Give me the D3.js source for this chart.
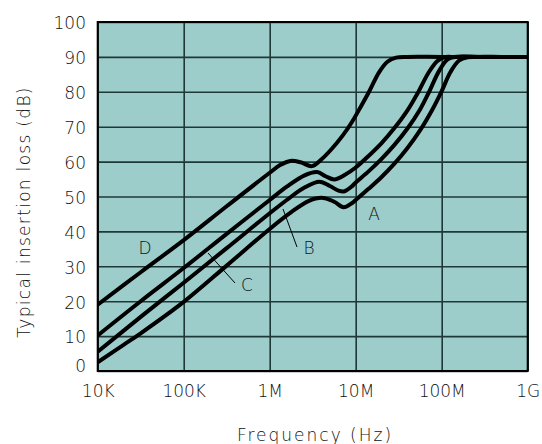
<!DOCTYPE html>
<html>
<head>
<meta charset="utf-8">
<script src="https://cdn.jsdelivr.net/npm/d3@7"></script>
<style>
  body { margin: 0; background: #fff; }
  svg { display: block; }
  text { font-family: "DejaVu Sans", sans-serif; font-weight: 200; fill: #111; }
  .grid line { stroke: #1e3838; stroke-width: 1.6; }
  .grid path { display: none; }
  .axis path, .axis line { display: none; }
  .axis text { font-size: 17px; }
  .curve { fill: none; stroke: #000; stroke-width: 4; stroke-linejoin: round; stroke-linecap: round; }
</style>
</head>
<body>
<script>
var width = 542,
    height = 444,
    plotLeft = 97.7,
    plotRight = 527.7,
    plotTop = 22,
    plotBottom = 371;

// frequency ticks (Hz) and their labels
var xTicks = [1e4, 1e5, 1e6, 1e7, 1e8, 1e9];
var xLabels = ["10K", "100K", "1M", "10M", "100M", "1G"];
var yTicks = [0, 10, 20, 30, 40, 50, 60, 70, 80, 90, 100];

// curve A
var freqA = [10e3, 20e3, 31.6e3, 100e3, 316e3, 1e6, 1.78e6, 2.82e6, 4.17e6, 5.62e6, 7.24e6, 8.91e6, 10e6, 14.1e6, 20e6, 28.2e6, 39.8e6, 56.2e6, 79.4e6, 100e6, 126e6, 158e6, 200e6, 251e6, 500e6, 1e9];
var lossA = [2.5, 7.5, 10.8, 19.8, 30.2, 40.7, 45.5, 48.7, 49.6, 48.5, 46.9, 48, 49, 52.2, 55.6, 59.4, 63.8, 69, 75.3, 80.2, 85.6, 88.9, 89.9, 90, 90, 90];

// curve B
var freqB = [10e3, 31.6e3, 100e3, 316e3, 1e6, 1.58e6, 2.51e6, 3.8e6, 5.01e6, 6.31e6, 7.41e6, 8.91e6, 10e6, 14.1e6, 20e6, 28.2e6, 39.8e6, 56.2e6, 70.8e6, 93.3e6, 117e6, 145e6, 300e6, 1e9];
var lossB = [5.5, 15.5, 25.3, 35.2, 45.2, 49, 52.5, 54.2, 53, 51.7, 51.5, 52.8, 54, 57.2, 60.8, 64.8, 69.4, 75, 79.8, 86, 89.3, 90, 90, 90];

// curve C
var freqC = [10e3, 31.6e3, 100e3, 316e3, 1e6, 1.58e6, 2.51e6, 3.55e6, 4.47e6, 5.62e6, 7.59e6, 10e6, 14.1e6, 20e6, 28.2e6, 39.8e6, 52.5e6, 70.8e6, 89.1e6, 107e6, 132e6, 300e6, 1e9];
var lossC = [10.2, 20, 29.5, 39.3, 49, 52.8, 56, 57, 55.8, 54.9, 56.3, 58.3, 61.6, 65.3, 69.6, 74.6, 79.6, 85.6, 88.8, 89.9, 90, 90, 90];

// curve D
var freqD = [10e3, 31.6e3, 100e3, 316e3, 1e6, 1.32e6, 1.74e6, 2.29e6, 3.09e6, 3.98e6, 5.25e6, 7.08e6, 9.12e6, 11.5e6, 14.5e6, 18.6e6, 23.4e6, 29.5e6, 39.8e6, 100e6, 1e9];
var lossD = [19, 28.3, 37.5, 47.2, 56.8, 59, 60.2, 59.8, 58.7, 60.6, 63.6, 67.5, 71.5, 75.8, 80.3, 85.5, 88.6, 89.8, 90, 90, 90];

var curves = [
  { name: "A", freq: freqA, loss: lossA },
  { name: "B", freq: freqB, loss: lossB },
  { name: "C", freq: freqC, loss: lossC },
  { name: "D", freq: freqD, loss: lossD }
];

var x = d3.scaleLog()
    .domain([1e4, 1e9])
    .range([plotLeft, plotRight]);

var y = d3.scaleLinear()
    .domain([0, 100])
    .range([plotBottom, plotTop]);

var svg = d3.select("body").append("svg")
    .attr("width", width)
    .attr("height", height);

svg.append("rect")
    .attr("x", plotLeft)
    .attr("y", plotTop)
    .attr("width", plotRight - plotLeft)
    .attr("height", plotBottom - plotTop)
    .attr("fill", "#9ccdcb");

// grid
svg.append("g")
    .attr("class", "grid")
    .attr("transform", "translate(0," + plotBottom + ")")
    .call(d3.axisBottom(x).tickValues(xTicks).tickSize(-(plotBottom - plotTop)).tickFormat(""));

svg.append("g")
    .attr("class", "grid")
    .attr("transform", "translate(" + plotLeft + ",0)")
    .call(d3.axisLeft(y).tickValues(yTicks).tickSize(-(plotRight - plotLeft)).tickFormat(""));

svg.append("defs").append("clipPath")
    .attr("id", "plot")
  .append("rect")
    .attr("x", plotLeft)
    .attr("y", plotTop)
    .attr("width", plotRight - plotLeft)
    .attr("height", plotBottom - plotTop);

var line = d3.line()
    .x(function(d) { return x(d[0]); })
    .y(function(d) { return y(d[1]); })
    .curve(d3.curveCatmullRom.alpha(0.5));

svg.append("g")
    .attr("clip-path", "url(#plot)")
  .selectAll(".curve")
    .data(curves)
    .enter().append("path")
    .attr("class", "curve")
    .attr("d", function(c) { return line(d3.zip(c.freq, c.loss)); });

// frame
svg.append("rect")
    .attr("x", plotLeft)
    .attr("y", plotTop)
    .attr("width", plotRight - plotLeft)
    .attr("height", plotBottom - plotTop)
    .attr("fill", "none")
    .attr("stroke", "#000")
    .attr("stroke-width", 2);

// axis labels
svg.append("g")
    .attr("class", "axis")
    .attr("transform", "translate(0," + (plotBottom + 11) + ")")
    .call(d3.axisBottom(x).tickValues(xTicks).tickSize(0)
      .tickFormat(function(d, i) { return xLabels[i]; }));

var yAxis = svg.append("g")
    .attr("class", "axis")
    .attr("transform", "translate(86,0)")
    .call(d3.axisLeft(y).tickValues(yTicks).tickSize(0).tickPadding(0));
yAxis.selectAll("text")
    .attr("dy", function(d) { return d === 0 ? "0.05em" : "0.4em"; });

svg.append("text")
    .attr("x", 315)
    .attr("y", 441)
    .attr("text-anchor", "middle")
    .style("font-size", "17px")
    .style("letter-spacing", "2px")
    .text("Frequency (Hz)");

svg.append("text")
    .attr("transform", "translate(30,212) rotate(-90)")
    .attr("text-anchor", "middle")
    .style("font-size", "17px")
    .style("letter-spacing", "1.3px")
    .text("Typical insertion loss (dB)");

// curve letters and leader lines
var tags = [
  { name: "A", lx: 374, ly: 220, x1: null },
  { name: "B", lx: 309, ly: 254, x1: 283, y1: 209, x2: 297, y2: 247 },
  { name: "C", lx: 247, ly: 291, x1: 208, y1: 253, x2: 235, y2: 283 },
  { name: "D", lx: 145, ly: 254, x1: null }
];

svg.selectAll(".tag")
    .data(tags)
    .enter().append("text")
    .attr("class", "tag")
    .attr("x", function(d) { return d.lx; })
    .attr("y", function(d) { return d.ly; })
    .attr("text-anchor", "middle")
    .style("font-size", "17px")
    .text(function(d) { return d.name; });

svg.selectAll(".leader")
    .data(tags.filter(function(d) { return d.x1 !== null; }))
    .enter().append("line")
    .attr("x1", function(d) { return d.x1; })
    .attr("y1", function(d) { return d.y1; })
    .attr("x2", function(d) { return d.x2; })
    .attr("y2", function(d) { return d.y2; })
    .attr("stroke", "#000")
    .attr("stroke-width", 1);
</script>
</body>
</html>
